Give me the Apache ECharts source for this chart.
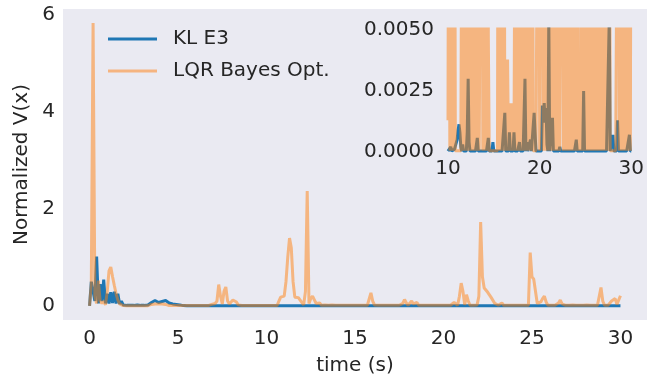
<!DOCTYPE html>
<html>
<head>
<meta charset="utf-8">
<script src="https://cdn.jsdelivr.net/npm/echarts@6/dist/echarts.min.js"></script>
<style>
  html, body { margin: 0; padding: 0; background: #ffffff; }
  #chart { width: 647px; height: 381px; }
</style>
</head>
<body>
<div id="chart"></div>
<script>
// Sampling interval of the recorded runs (seconds)
const DT = 0.1;
const INSET_START = 10;

// Normalized V(x) for the KL E3 controller, t = 0.0 ... 30.0 s (one row per second)
const klE3 = [
  0.0, 0.5, 0.3, 0.1, 1.02, 0.05, 0.45, 0.1, 0.54, 0.05,
  0.25, 0.05, 0.28, 0.06, 0.29, 0.05, 0.25, 0.04, 0.1, 0.02,
  0.02, 0.01, 0.02, 0.01, 0.02, 0.01, 0.01, 0.02, 0.01, 0.01,
  0.01, 0.01, 0.01, 0.02, 0.04, 0.07, 0.1, 0.11, 0.1, 0.07,
  0.06, 0.09, 0.12, 0.11, 0.08, 0.06, 0.05, 0.04, 0.04, 0.03,
  0.03, 0.02, 0.01, 0.005, 0.0, 0.0, 0.0, 0.0, 0.0, 0.0,
  0.0, 0.0, 0.0, 0.0, 0.0, 0.0, 0.0, 0.0, 0.0, 0.0,
  0.0, 0.0, 0.0, 0.0, 0.0, 0.0, 0.0, 0.0, 0.0, 0.0,
  0.0, 0.0, 0.0, 0.0, 0.0, 0.0, 0.0, 0.0, 0.0, 0.0,
  0.0, 0.0, 0.0, 0.0, 0.0, 0.0, 0.0, 0.0, 0.0, 0.0,
  0.0, 0.0, 0.0, 0.0, 0.0, 0.0, 0.0, 0.0, 0.0, 0.0,
  0.0, 0.0, 0.0, 0.0, 0.0, 0.0, 0.0, 0.0, 0.0, 0.0,
  0.0, 0.0, 0.0, 0.0, 0.0, 0.0, 0.0, 0.0, 0.0, 0.0,
  0.0, 0.0, 0.0, 0.0, 0.0, 0.0, 0.0, 0.0, 0.0, 0.0,
  0.0, 0.0, 0.0, 0.0, 0.0, 0.0, 0.0, 0.0, 0.0, 0.0,
  0.0, 0.0, 0.0, 0.0, 0.0, 0.0, 0.0, 0.0, 0.0, 0.0,
  0.0, 0.0, 0.0, 0.0, 0.0, 0.0, 0.0, 0.0, 0.0, 0.0,
  0.0, 0.0, 0.0, 0.0, 0.0, 0.0, 0.0, 0.0, 0.0, 0.0,
  0.0, 0.0, 0.0, 0.0, 0.0, 0.0, 0.0, 0.0, 0.0, 0.0,
  0.0, 0.0, 0.0, 0.0, 0.0, 0.0, 0.0, 0.0, 0.0, 0.0,
  0.0, 0.0, 0.0, 0.0, 0.0, 0.0, 0.0, 0.0, 0.0, 0.0,
  0.0, 0.0, 0.0, 0.0, 0.0, 0.0, 0.0, 0.0, 0.0, 0.0,
  0.0, 0.0, 0.0, 0.0, 0.0, 0.0, 0.0, 0.0, 0.0, 0.0,
  0.0, 0.0, 0.0, 0.0, 0.0, 0.0, 0.0, 0.0, 0.0, 0.0,
  0.0, 0.0, 0.0, 0.0, 0.0, 0.0, 0.0, 0.0, 0.0, 0.0,
  0.0, 0.0, 0.0, 0.0, 0.0, 0.0, 0.0, 0.0, 0.0, 0.0,
  0.0, 0.0, 0.0, 0.0, 0.0, 0.0, 0.0, 0.0, 0.0, 0.0,
  0.0, 0.0, 0.0, 0.0, 0.0, 0.0, 0.0, 0.0, 0.0, 0.0,
  0.0, 0.0, 0.0, 0.0, 0.0, 0.0, 0.0, 0.0, 0.0, 0.0,
  0.0, 0.0, 0.0, 0.0, 0.0, 0.0, 0.0, 0.0, 0.0, 0.0,
  0.0
];

// Normalized V(x) for the LQR controller tuned by Bayesian optimisation, t = 0.0 ... 30.0 s
const lqrBayes = [
  0.0, 0.45, 5.84, 0.2, 0.05, 0.52, 0.1, 0.05, 0.1, 0.02,
  0.3, 0.72, 0.8, 0.6, 0.42, 0.25, 0.12, 0.04, 0.02, 0.006,
  0.004, 0.004, 0.004, 0.004, 0.004, 0.004, 0.004, 0.004, 0.004, 0.004,
  0.004, 0.004, 0.004, 0.004, 0.01, 0.03, 0.04, 0.04, 0.04, 0.04,
  0.04, 0.04, 0.03, 0.03, 0.02, 0.006, 0.006, 0.006, 0.006, 0.006,
  0.006, 0.006, 0.006, 0.006, 0.006, 0.006, 0.006, 0.006, 0.006, 0.006,
  0.006, 0.006, 0.006, 0.006, 0.006, 0.006, 0.006, 0.006, 0.03, 0.03,
  0.04, 0.05, 0.1, 0.44, 0.2, 0.04, 0.3, 0.39, 0.1, 0.04,
  0.08, 0.12, 0.12, 0.08, 0.02, 0.006, 0.006, 0.006, 0.006, 0.006,
  0.006, 0.006, 0.006, 0.006, 0.006, 0.006, 0.006, 0.006, 0.006, 0.006,
  0.006, 0.006, 0.006, 0.006, 0.006, 0.006, 0.006, 0.1, 0.18, 0.16,
  0.2, 0.5, 1.0, 1.4, 1.2, 0.5, 0.18, 0.15, 0.17, 0.12,
  0.15, 0.02, 0.3, 2.37, 0.05, 0.15, 0.2, 0.19, 0.05, 0.012,
  0.06, 0.012, 0.012, 0.02, 0.012, 0.012, 0.012, 0.02, 0.012, 0.012,
  0.012, 0.012, 0.02, 0.012, 0.012, 0.012, 0.012, 0.012, 0.012, 0.012,
  0.012, 0.012, 0.02, 0.012, 0.012, 0.012, 0.012, 0.012, 0.05, 0.27,
  0.1, 0.02, 0.012, 0.012, 0.012, 0.012, 0.012, 0.012, 0.012, 0.012,
  0.012, 0.012, 0.04, 0.012, 0.012, 0.012, 0.012, 0.05, 0.13, 0.06,
  0.012, 0.04, 0.1, 0.04, 0.012, 0.07, 0.012, 0.012, 0.012, 0.012,
  0.012, 0.012, 0.012, 0.012, 0.012, 0.012, 0.012, 0.012, 0.012, 0.012,
  0.012, 0.012, 0.012, 0.012, 0.012, 0.02, 0.07, 0.05, 0.012, 0.2,
  0.47, 0.3, 0.02, 0.23, 0.1, 0.012, 0.012, 0.012, 0.012, 0.02,
  0.2, 1.73, 0.6, 0.37, 0.33, 0.28, 0.24, 0.17, 0.14, 0.05,
  0.012, 0.012, 0.012, 0.06, 0.012, 0.012, 0.012, 0.05, 0.012, 0.012,
  0.012, 0.012, 0.012, 0.012, 0.012, 0.012, 0.012, 0.012, 0.012, 1.1,
  0.6, 0.55, 0.55, 0.05, 0.012, 0.08, 0.15, 0.2, 0.08, 0.012,
  0.012, 0.012, 0.012, 0.012, 0.012, 0.06, 0.12, 0.04, 0.012, 0.012,
  0.05, 0.012, 0.012, 0.02, 0.012, 0.012, 0.02, 0.012, 0.012, 0.012,
  0.012, 0.02, 0.012, 0.012, 0.012, 0.012, 0.012, 0.012, 0.012, 0.38,
  0.1, 0.012, 0.012, 0.012, 0.012, 0.1, 0.14, 0.15, 0.03, 0.05,
  0.21
];

// Close-up record, t = 10.0 ... 30.0 s
const klE3Zoom = [
  0.00003, 0.0001, 0.00003, 0.0002, 0.00003, 0.0001, 0.00003, 0.0001, 0.00003, 0.00003,
  0.0005, 0.0009, 0.00113, 0.0008, 0.0002, 0.00003, 0.0003, 0.00003, 0.00003, 0.00003,
  0.00003, 0.0008, 0.003, 0.0004, 0.00003, 0.00003, 0.00003, 0.00003, 0.00003, 0.00003,
  0.00003, 0.00003, 0.00057, 0.00003, 0.00003, 0.00003, 0.00003, 0.00003, 0.00003, 0.00003,
  0.00003, 0.00003, 0.00003, 0.00003, 0.00057, 0.00003, 0.00003, 0.00003, 0.00003, 0.0004,
  0.00003, 0.00003, 0.00003, 0.00003, 0.00003, 0.00003, 0.00003, 0.00003, 0.00003, 0.00003,
  0.00003, 0.00003, 0.0016, 0.00003, 0.00003, 0.00003, 0.00003, 0.0008, 0.00003, 0.00003,
  0.00003, 0.00003, 0.0008, 0.00003, 0.00003, 0.00003, 0.00003, 0.00003, 0.0004, 0.00003,
  0.00003, 0.00003, 0.00003, 0.00003, 0.003, 0.00003, 0.0004, 0.00003, 0.00003, 0.00003,
  0.0005, 0.00003, 0.00003, 0.00003, 0.0016, 0.0008, 0.00003, 0.00003, 0.00003, 0.00003,
  0.00003, 0.00003, 0.00003, 0.0019, 0.0012, 0.002, 0.0012, 0.0018, 0.0003, 0.00003,
  0.0055, 0.00003, 0.00003, 0.00003, 0.0014, 0.00003, 0.00003, 0.00003, 0.00003, 0.00003,
  0.00003, 0.00003, 0.0002, 0.00003, 0.00003, 0.00003, 0.00003, 0.00003, 0.00003, 0.00003,
  0.00003, 0.00003, 0.00003, 0.00003, 0.00003, 0.00003, 0.00003, 0.00003, 0.00003, 0.00003,
  0.0005, 0.00003, 0.00003, 0.00003, 0.00003, 0.00003, 0.00003, 0.00003, 0.0025, 0.00003,
  0.00003, 0.00003, 0.00003, 0.00003, 0.00003, 0.00003, 0.00003, 0.00003, 0.00003, 0.00003,
  0.00003, 0.00003, 0.00003, 0.00003, 0.00003, 0.00003, 0.00003, 0.00003, 0.00003, 0.00003,
  0.00003, 0.00003, 0.00003, 0.00003, 0.00003, 0.00003, 0.0055, 0.00003, 0.00003, 0.00003,
  0.0007, 0.00003, 0.00003, 0.00003, 0.00003, 0.0013, 0.00003, 0.00003, 0.00003, 0.00003,
  0.00003, 0.00003, 0.00003, 0.00003, 0.00003, 0.00003, 0.00003, 0.00003, 0.0007, 0.00003,
  0.00003
];

const lqrBayesZoom = [
  0.0013, 0.02, 0.00004, 0.02, 0.00004, 0.02, 0.00004, 0.02, 0.00004, 0.00004,
  0.00004, 0.00004, 0.00004, 0.00004, 0.00004, 0.00004, 0.02, 0.00004, 0.02, 0.00004,
  0.02, 0.00004, 0.02, 0.00004, 0.02, 0.00004, 0.00004, 0.02, 0.00004, 0.02,
  0.00004, 0.02, 0.00004, 0.02, 0.00004, 0.00004, 0.00004, 0.02, 0.00004, 0.02,
  0.00004, 0.02, 0.00004, 0.02, 0.0047, 0.00004, 0.00004, 0.00004, 0.00004, 0.00004,
  0.00004, 0.00004, 0.00004, 0.00004, 0.00004, 0.02, 0.00004, 0.02, 0.00004, 0.02,
  0.00004, 0.02, 0.00004, 0.0038, 0.00004, 0.0038, 0.00004, 0.002, 0.00004, 0.002,
  0.00004, 0.002, 0.00004, 0.00004, 0.02, 0.00004, 0.02, 0.00004, 0.02, 0.00004,
  0.02, 0.00004, 0.02, 0.00004, 0.02, 0.00004, 0.02, 0.00004, 0.02, 0.00004,
  0.02, 0.00004, 0.02, 0.00004, 0.00004, 0.00004, 0.00004, 0.00004, 0.00004, 0.02,
  0.00004, 0.00004, 0.00004, 0.02, 0.00004, 0.02, 0.00004, 0.02, 0.00004, 0.02,
  0.00004, 0.02, 0.00004, 0.02, 0.00004, 0.02, 0.00004, 0.02, 0.00004, 0.02,
  0.00004, 0.02, 0.00004, 0.00004, 0.00004, 0.02, 0.00004, 0.02, 0.00004, 0.02,
  0.00004, 0.02, 0.00004, 0.02, 0.00004, 0.02, 0.00004, 0.02, 0.00004, 0.02,
  0.00004, 0.02, 0.0025, 0.00004, 0.0025, 0.00004, 0.02, 0.00004, 0.02, 0.00004,
  0.02, 0.00004, 0.02, 0.00004, 0.02, 0.00004, 0.02, 0.00004, 0.02, 0.00004,
  0.02, 0.00004, 0.02, 0.00004, 0.02, 0.00004, 0.02, 0.00004, 0.02, 0.00004,
  0.02, 0.00004, 0.02, 0.00004, 0.02, 0.00004, 0.02, 0.00004, 0.00004, 0.00004,
  0.00004, 0.00004, 0.00004, 0.00004, 0.00004, 0.00004, 0.02, 0.00004, 0.02, 0.00004,
  0.02, 0.00004, 0.02, 0.00004, 0.02, 0.00004, 0.02, 0.00004, 0.02, 0.00004,
  0.02
];

// Tick positions
const mainXTicks = [0, 5, 10, 15, 20, 25, 30];
const mainYTicks = [0, 2, 4, 6];
const zoomXTicks = [10, 20, 30];
const zoomYTicks = [0, 0.0025, 0.005];

const BLUE = '#1f77b4';
const ORANGE = '#ff7f0e';
const TEXT = '#262626';
const FONT = 'DejaVu Sans';

function pairs(values, t0) {
  return values.map((v, i) => [+(t0 + i * DT).toFixed(2), v]);
}

const chart = echarts.init(document.getElementById('chart'), null, { renderer: 'canvas' });

const axisCommon = {
  axisLine: { show: false },
  axisTick: { show: false },
  splitLine: { show: false },
  axisLabel: { color: TEXT, fontFamily: FONT, fontSize: 20 }
};

chart.setOption({
  animation: false,
  backgroundColor: '#ffffff',
  textStyle: { fontFamily: FONT },
  grid: [
    { left: 63, top: 9, right: -10, bottom: 61, show: true, backgroundColor: '#eaeaf2', borderWidth: 0 },
    { left: 448, top: 29, width: 189, height: 124, show: true, backgroundColor: '#eaeaf2', borderWidth: 0 }
  ],
  legend: {
    left: 108, top: 28, padding: 0, orient: 'vertical', itemWidth: 49, itemHeight: 3, itemGap: 10,
    icon: 'rect', selectedMode: false,
    textStyle: { fontSize: 20, color: TEXT, fontFamily: FONT, lineHeight: 22, padding: [0, 0, 0, 11] },
    data: [
      { name: 'KL E3', itemStyle: { color: BLUE } },
      { name: 'LQR Bayes Opt.', itemStyle: { color: '#f5b480' } }
    ]
  },
  xAxis: [
    Object.assign({}, axisCommon, {
      gridIndex: 0, type: 'value', min: -1.5, max: 31.5,
      name: 'time (s)', nameLocation: 'middle', nameGap: 36,
      nameTextStyle: { color: TEXT, fontFamily: FONT, fontSize: 20 },
      axisLabel: Object.assign({}, axisCommon.axisLabel, { margin: 9, customValues: mainXTicks })
    }),
    Object.assign({}, axisCommon, {
      gridIndex: 1, type: 'value', min: INSET_START, max: 30,
      axisLabel: Object.assign({}, axisCommon.axisLabel, { margin: 6, customValues: zoomXTicks })
    })
  ],
  yAxis: [
    Object.assign({}, axisCommon, {
      gridIndex: 0, type: 'value', min: -0.292, max: 6.13,
      name: 'Normalized V(x)', nameLocation: 'middle', nameGap: 19,
      nameTextStyle: { color: TEXT, fontFamily: FONT, fontSize: 20 },
      axisLabel: Object.assign({}, axisCommon.axisLabel, { margin: 8, customValues: mainYTicks })
    }),
    Object.assign({}, axisCommon, {
      gridIndex: 1, type: 'value', min: -0.00005, max: 0.00505,
      axisLabel: Object.assign({}, axisCommon.axisLabel, {
        margin: 14, customValues: zoomYTicks,
        formatter: v => v.toFixed(4)
      })
    })
  ],
  series: [
    {
      name: 'KL E3', type: 'line', xAxisIndex: 0, yAxisIndex: 0,
      data: pairs(klE3, 0), showSymbol: false, clip: true,
      lineStyle: { color: BLUE, width: 3 }, itemStyle: { color: BLUE }, z: 2
    },
    {
      name: 'LQR Bayes Opt.', type: 'line', xAxisIndex: 0, yAxisIndex: 0,
      data: pairs(lqrBayes, 0), showSymbol: false, clip: true,
      lineStyle: { color: ORANGE, width: 3, opacity: 0.5 }, itemStyle: { color: ORANGE }, z: 3
    },
    {
      name: 'KL E3', type: 'line', xAxisIndex: 1, yAxisIndex: 1,
      data: pairs(klE3Zoom, INSET_START), showSymbol: false, clip: true,
      lineStyle: { color: BLUE, width: 3 }, itemStyle: { color: BLUE }, z: 4
    },
    {
      name: 'LQR Bayes Opt.', type: 'line', xAxisIndex: 1, yAxisIndex: 1,
      data: pairs(lqrBayesZoom, INSET_START), showSymbol: false, clip: true,
      lineStyle: { color: ORANGE, width: 3, opacity: 0.5 }, itemStyle: { color: ORANGE }, z: 5
    }
  ]
});
</script>
</body>
</html>
